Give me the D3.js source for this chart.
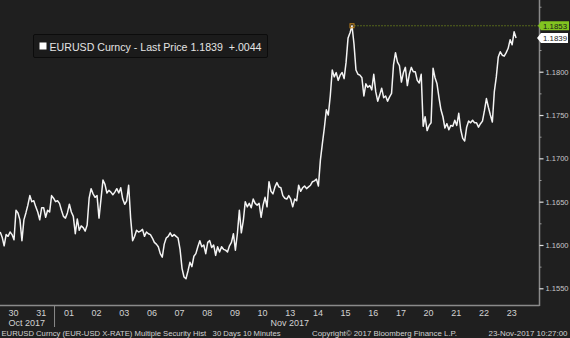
<!DOCTYPE html>
<html>

<head>
  <meta charset="UTF-8">
  <title>EURUSD Curncy</title>
  <script src="https://d3js.org/d3.v7.min.js"></script>
  <style>
    body {
      margin: 0;
      background: #1f1f1f;
    }

    svg {
      display: block;
      font-family: "Liberation Sans", Arial, sans-serif;
    }
  </style>
</head>

<body>
  <svg></svg>
</body>

<script>
  let width = 570,
    height = 338;

  // trading days on the x axis
  let days = ["30", "31", "01", "02", "03", "06", "07", "08", "09", "10",
    "13", "14", "15", "16", "17", "20", "21", "22", "23"];

  // EURUSD, about 14 readings per day
  let prices = [
    [1.1615, 1.1609, 1.1599, 1.1612, 1.1610, 1.1615, 1.1612, 1.1606, 1.1640, 1.1637, 1.1629, 1.1605, 1.1629, 1.1637],
    [1.1646, 1.1657, 1.1650, 1.1651, 1.1644, 1.1638, 1.1629, 1.1643, 1.1643, 1.1632, 1.1640, 1.1638, 1.1657, 1.1654],
    [1.1650, 1.1651, 1.1648, 1.1640, 1.1633, 1.1631, 1.1637, 1.1647, 1.1638, 1.1633, 1.1613, 1.1630, 1.1617, 1.1622],
    [1.1620, 1.1616, 1.1623, 1.1654, 1.1665, 1.1659, 1.1655, 1.1657, 1.1631, 1.1653, 1.1675, 1.1670, 1.1660, 1.1663],
    [1.1661, 1.1658, 1.1661, 1.1665, 1.1660, 1.1666, 1.1653, 1.1647, 1.1651, 1.1669, 1.1631, 1.1605, 1.1610, 1.1617],
    [1.1615, 1.1616, 1.1618, 1.1610, 1.1615, 1.1613, 1.1612, 1.1608, 1.1603, 1.1601, 1.1598, 1.1590, 1.1586, 1.1601],
    [1.1608, 1.1610, 1.1614, 1.1610, 1.1612, 1.1610, 1.1608, 1.1595, 1.1573, 1.1563, 1.1561, 1.1570, 1.1580, 1.1575],
    [1.1587, 1.1590, 1.1598, 1.1605, 1.1598, 1.1600, 1.1590, 1.1603, 1.1605, 1.1597, 1.1600, 1.1588, 1.1598, 1.1592],
    [1.1598, 1.1595, 1.1594, 1.1592, 1.1599, 1.1603, 1.1613, 1.1594, 1.1613, 1.1640, 1.1614, 1.1628, 1.1650, 1.1644],
    [1.1648, 1.1643, 1.1653, 1.1648, 1.1646, 1.1648, 1.1632, 1.1646, 1.1655, 1.1644, 1.1673, 1.1662, 1.1659, 1.1667],
    [1.1672, 1.1667, 1.1666, 1.1657, 1.1654, 1.1653, 1.1657, 1.1653, 1.1644, 1.1653, 1.1651, 1.1669, 1.1662, 1.1666],
    [1.1668, 1.1665, 1.1667, 1.1669, 1.1673, 1.1674, 1.1676, 1.1668, 1.1698, 1.1717, 1.1735, 1.1756, 1.1750, 1.1772],
    [1.1802, 1.1794, 1.1799, 1.1790, 1.1796, 1.1799, 1.1792, 1.1811, 1.1839, 1.1845, 1.1853, 1.1832, 1.1802, 1.1797],
    [1.1796, 1.1793, 1.1772, 1.1786, 1.1782, 1.1784, 1.1779, 1.1797, 1.1777, 1.1766, 1.1773, 1.1781, 1.1770, 1.1772],
    [1.1766, 1.1771, 1.1775, 1.1808, 1.1822, 1.1811, 1.1807, 1.1788, 1.1799, 1.1805, 1.1784, 1.1797, 1.1805, 1.1800],
    [1.1800, 1.1790, 1.1787, 1.1797, 1.1737, 1.1748, 1.1732, 1.1738, 1.1741, 1.1804, 1.1793, 1.1786, 1.1770, 1.1756],
    [1.1748, 1.1735, 1.1740, 1.1733, 1.1738, 1.1737, 1.1744, 1.1738, 1.1752, 1.1733, 1.1723, 1.1720, 1.1736, 1.1743],
    [1.1741, 1.1744, 1.1741, 1.1741, 1.1736, 1.1740, 1.1743, 1.1755, 1.1769, 1.1759, 1.1750, 1.1742, 1.1777, 1.1794],
    [1.1817, 1.1823, 1.1819, 1.1818, 1.1822, 1.1827, 1.1837, 1.1831, 1.1846, 1.1839]
  ];

  let yTicks = [1.1550, 1.1600, 1.1650, 1.1700, 1.1750, 1.1800];
  let yMinor = [1.1575, 1.1625, 1.1675, 1.1725, 1.1775, 1.1825, 1.1875];
  let months = [{ label: "Oct 2017", at: 0.5 }, { label: "Nov 2017", at: 10 }];
  let lastPrice = 1.1839,
    change = "+.0044";

  let svg = d3.select("svg")
    .attr("width", width)
    .attr("height", height);

  svg.append("rect")
    .attr("width", width)
    .attr("height", height)
    .attr("fill", "#1f1f1f");

  let x = d3.scaleLinear().domain([-0.5, 19]).range([-0.8, 538.8]);
  let y = d3.scaleLinear().domain([1.155, 1.18]).range([288.3, 71.7]);
  let fmt = d3.format(".4f");

  let points = [];
  prices.forEach((day, i) => {
    day.forEach((p, j) => points.push({ t: i - 0.5 + (j + 0.5) / 14, p: p }));
  });

  // price line
  let line = d3.line().x(d => x(d.t)).y(d => y(d.p));
  svg.append("path")
    .datum(points)
    .attr("fill", "none")
    .attr("stroke", "#f4f4f4")
    .attr("stroke-width", 1.5)
    .attr("stroke-linejoin", "round")
    .attr("d", line);

  // high marker + dotted line
  let hi = points[d3.maxIndex(points, d => d.p)];
  svg.append("line")
    .attr("x1", x(hi.t) + 2).attr("x2", 539)
    .attr("y1", y(hi.p)).attr("y2", y(hi.p))
    .attr("stroke", "#55661c")
    .attr("stroke-width", 1)
    .attr("stroke-dasharray", "2,1");
  svg.append("rect")
    .attr("x", x(hi.t) - 2).attr("y", y(hi.p) - 2)
    .attr("width", 4).attr("height", 4)
    .attr("fill", "none")
    .attr("stroke", "#c8871e")
    .attr("stroke-width", 1);

  // frame: bottom and right
  svg.append("line")
    .attr("x1", 0).attr("x2", 539.5)
    .attr("y1", 305.5).attr("y2", 305.5)
    .attr("stroke", "#8a8a8a").attr("stroke-width", 1.5);
  svg.append("line")
    .attr("x1", 539.5).attr("x2", 539.5)
    .attr("y1", 0).attr("y2", 306)
    .attr("stroke", "#8a8a8a").attr("stroke-width", 1.5);

  // y axis
  let yAxis = svg.append("g")
    .attr("transform", "translate(539.5,0)")
    .call(d3.axisRight(y).tickValues(yTicks).tickSize(4).tickPadding(2).tickFormat(fmt));
  yAxis.select(".domain").remove();
  yAxis.selectAll("line").attr("stroke", "#e0e0e0").attr("stroke-width", 1.2);
  yAxis.selectAll("text")
    .attr("fill", "#c8c8c8")
    .attr("textLength", 23)
    .attr("lengthAdjust", "spacingAndGlyphs")
    .style("font-size", "8px");

  let yMinorAxis = svg.append("g")
    .attr("transform", "translate(539.5,0)")
    .call(d3.axisRight(y).tickValues(yMinor).tickSize(2).tickFormat(""));
  yMinorAxis.select(".domain").remove();
  yMinorAxis.selectAll("line").attr("stroke", "#9a9a9a");

  // x axis (day labels)
  let xAxis = svg.append("g")
    .attr("transform", "translate(0,305.5)")
    .call(d3.axisBottom(x).tickValues(d3.range(days.length)).tickSize(0).tickPadding(4)
      .tickFormat(i => days[i]));
  xAxis.select(".domain").remove();
  xAxis.selectAll("text")
    .attr("fill", "#d2d2d2")
    .style("font-size", "9px");

  svg.selectAll(".month")
    .data(months)
    .enter()
    .append("text")
    .attr("class", "month")
    .attr("x", d => x(d.at))
    .attr("y", 326)
    .attr("text-anchor", "middle")
    .attr("fill", "#d2d2d2")
    .style("font-size", "9px")
    .text(d => d.label);

  // month separator
  svg.append("line")
    .attr("x1", x(1.5)).attr("x2", x(1.5))
    .attr("y1", 306).attr("y2", 327)
    .attr("stroke", "#8a8a8a").attr("stroke-width", 1);

  // right-hand value labels
  let hy = y(hi.p);
  svg.append("path")
    .attr("d", "M538," + hy + "L541," + (hy - 4.5) + "H569V" + (hy + 4.5) + "H541Z")
    .attr("fill", "#82c520");
  svg.append("text")
    .attr("x", 543).attr("y", hy + 3)
    .attr("fill", "#1a1a1a")
    .attr("textLength", 24)
    .attr("lengthAdjust", "spacingAndGlyphs")
    .style("font-size", "8px")
    .text(fmt(hi.p));

  let ly = y(lastPrice);
  svg.append("path")
    .attr("d", "M537," + ly + "L541," + (ly - 5) + "H568V" + (ly + 5) + "H541Z")
    .attr("fill", "#ffffff");
  svg.append("text")
    .attr("x", 543).attr("y", ly + 3)
    .attr("fill", "#1a1a1a")
    .attr("textLength", 24)
    .attr("lengthAdjust", "spacingAndGlyphs")
    .style("font-size", "8px")
    .text(fmt(lastPrice));

  // legend
  let legend = svg.append("g");
  legend.append("rect")
    .attr("x", 33.5).attr("y", 34.5)
    .attr("width", 234).attr("height", 23)
    .attr("rx", 1.5)
    .attr("fill", "#1b1b1b")
    .attr("stroke", "#0c0c0c");
  legend.append("rect")
    .attr("x", 39.5).attr("y", 42.5)
    .attr("width", 7).attr("height", 7)
    .attr("fill", "#ffffff");
  legend.append("text")
    .attr("x", 49.5).attr("y", 50.5)
    .attr("fill", "#e4e4e4")
    .attr("textLength", 212)
    .attr("lengthAdjust", "spacingAndGlyphs")
    .style("font-size", "11.5px")
    .style("white-space", "pre")
    .text("EURUSD Curncy - Last Price " + fmt(lastPrice) + "  " + change);

  // footer
  let footer = [
    { text: "EURUSD Curncy (EUR-USD X-RATE) Multiple Security Hist   30 Days 10 Minutes", x: 1.5, w: 279 },
    { text: "Copyright\u00a9 2017 Bloomberg Finance L.P.", x: 312, w: 145 },
    { text: "23-Nov-2017 10:27:00", x: 488.5, w: 79 }
  ];
  svg.selectAll(".footer")
    .data(footer)
    .enter()
    .append("text")
    .attr("class", "footer")
    .attr("x", d => d.x)
    .attr("y", 336)
    .attr("textLength", d => d.w)
    .attr("lengthAdjust", "spacingAndGlyphs")
    .attr("fill", "#d2d2d2")
    .style("font-size", "8px")
    .style("white-space", "pre")
    .text(d => d.text);
</script>

</html>
